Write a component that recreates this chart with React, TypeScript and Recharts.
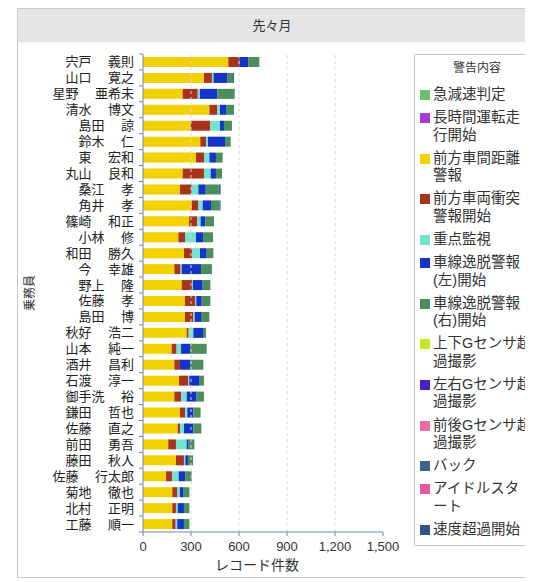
import { BarChart, Bar, XAxis, YAxis, ReferenceLine } from 'recharts';

// 乗務員
const drivers = [
  '宍戸　 義則', '山口　 寛之', '星野　 亜希未', '清水　 博文', '島田　 諒',
  '鈴木　 仁', '東　 宏和', '丸山　 良和', '桑江　 孝', '角井　 孝',
  '篠崎　 和正', '小林　 修', '和田　 勝久', '今　 幸雄', '野上　 隆',
  '佐藤　 孝', '島田　 博', '秋好　 浩二', '山本　 純一', '酒井　 昌利',
  '石渡　 淳一', '御手洗　 裕', '鎌田　 哲也', '佐藤　 直之', '前田　 勇吾',
  '藤田　 秋人', '佐藤　 行太郎', '菊地　 徹也', '北村　 正明', '工藤　 順一',
];

// 警告内容ごとの件数 (driver order)
const kyugensoku: number[] = [];
const chojikan: number[] = [];
const kankyori = [533, 381, 248, 415, 298, 358, 331, 248, 231, 304, 288, 221, 256, 196, 242, 262, 262, 273, 179, 196, 225, 196, 231, 217, 158, 206, 144, 183, 183, 183];
const shototsu = [69, 50, 94, 50, 123, 36, 52, 133, 73, 42, 50, 44, 50, 39, 64, 63, 53, 12, 31, 35, 58, 42, 32, 14, 48, 50, 37, 32, 23, 21];
const juten = [0, 10, 14, 16, 60, 12, 32, 42, 42, 27, 22, 66, 50, 7, 6, 8, 8, 30, 28, 0, 6, 35, 14, 25, 67, 9, 42, 16, 11, 10];
const shasenLeft = [56, 88, 109, 42, 25, 107, 41, 33, 46, 52, 30, 44, 42, 121, 61, 34, 44, 60, 56, 63, 61, 62, 38, 59, 12, 16, 42, 23, 39, 42];
const shasenRight = [69, 28, 108, 46, 50, 35, 42, 38, 81, 52, 54, 63, 42, 68, 48, 54, 48, 19, 104, 83, 31, 46, 45, 50, 36, 32, 39, 36, 34, 34];
const jogeG: number[] = [];
const sayuG: number[] = [];
const zengoG: number[] = [];
const back = [0, 12, 0, 0, 0, 0, 0, 0, 12, 8, 0, 0, 0, 0, 0, 0, 0, 0, 0, 0, 0, 0, 0, 0, 0, 0, 0, 0, 0, 0];
const idle: number[] = [];
const sokudo: number[] = [];

const xTicks = [0, 300, 600, 900, 1200, 1500];
const gridLines = [300, 600, 900, 1200];

const series = [
  { key: 'kyugensoku', name: '急減速判定', lines: ['急減速判定'], color: '#6cc26c', values: kyugensoku },
  { key: 'chojikan', name: '長時間運転走行開始', lines: ['長時間運転走', '行開始'], color: '#a23fd6', values: chojikan },
  { key: 'kankyori', name: '前方車間距離警報', lines: ['前方車間距離', '警報'], color: '#f2d100', values: kankyori },
  { key: 'shototsu', name: '前方車両衝突警報開始', lines: ['前方車両衝突', '警報開始'], color: '#a8341e', values: shototsu },
  { key: 'juten', name: '重点監視', lines: ['重点監視'], color: '#72e3cf', values: juten },
  { key: 'shasenLeft', name: '車線逸脱警報(左)開始', lines: ['車線逸脱警報', '(左)開始'], color: '#1433c9', values: shasenLeft },
  { key: 'shasenRight', name: '車線逸脱警報(右)開始', lines: ['車線逸脱警報', '(右)開始'], color: '#4b8d5b', values: shasenRight },
  { key: 'jogeG', name: '上下Gセンサ超過撮影', lines: ['上下Gセンサ超', '過撮影'], color: '#c2e62a', values: jogeG },
  { key: 'sayuG', name: '左右Gセンサ超過撮影', lines: ['左右Gセンサ超', '過撮影'], color: '#4a1fc4', values: sayuG },
  { key: 'zengoG', name: '前後Gセンサ超過撮影', lines: ['前後Gセンサ超', '過撮影'], color: '#f06aa4', values: zengoG },
  { key: 'back', name: 'バック', lines: ['バック'], color: '#3c6288', values: back },
  { key: 'idle', name: 'アイドルスタート', lines: ['アイドルスタ', 'ート'], color: '#e85a9e', values: idle },
  { key: 'sokudo', name: '速度超過開始', lines: ['速度超過開始'], color: '#2e5585', values: sokudo },
];

const rows = drivers.map((name, i) => {
  const row: Record<string, string | number> = { name };
  series.forEach((s) => {
    row[s.key] = s.values[i] ?? 0;
  });
  return row;
});

const FONT = '"Liberation Sans", "Noto Sans CJK JP", sans-serif';
const AXIS = '#6d87b7';
const PLOT_H = 478;

function DriverTick(props: any) {
  const { x, y, payload, index } = props;
  const band = PLOT_H / drivers.length;
  const ax = x + 9;
  return (
    <g>
      <line x1={ax - 4} x2={ax} y1={y - band / 2} y2={y - band / 2} stroke={AXIS} />
      {index === drivers.length - 1 && (
        <line x1={ax - 4} x2={ax} y1={y + band / 2} y2={y + band / 2} stroke={AXIS} />
      )}
      <text x={x} y={y} dy={4.5} textAnchor="end" fontSize={13} fill="#222" fontFamily={FONT}>
        {payload.value}
      </text>
    </g>
  );
}

export default function App() {
  return (
    <div style={{ position: 'relative', width: 525, height: 574, overflow: 'hidden', fontFamily: FONT }}>
      <div
        style={{
          position: 'absolute',
          left: 9,
          top: 0,
          width: 600,
          height: 568,
          border: '1px solid #c9c9c9',
          background: '#fff',
        }}
      >
        <div style={{ height: 33, background: '#e5e5e5' }} />
      </div>
      <div
        style={{
          position: 'absolute',
          left: 10,
          top: 1,
          width: 508,
          lineHeight: '33px',
          textAlign: 'center',
          fontSize: 13,
          color: '#333',
        }}
      >
        先々月
      </div>

      <div style={{ position: 'absolute', left: 0, top: 0 }}>
        <BarChart
          width={400}
          height={570}
          data={rows}
          layout="vertical"
          barSize={10}
          margin={{ top: 46, right: 25, left: 0, bottom: 0 }}
        >
          {gridLines.map((v) => (
            <ReferenceLine key={v} x={v} stroke="#d6d6d6" strokeDasharray="3 3" />
          ))}
          <XAxis
            type="number"
            domain={[0, 1500]}
            ticks={xTicks}
            height={46}
            tickSize={4}
            tickMargin={6}
            stroke={AXIS}
            tick={{ fontSize: 13, fill: '#333', fontFamily: FONT }}
            tickFormatter={(v: number) => v.toLocaleString('en-US')}
            label={{ value: 'レコード件数', position: 'insideBottom', offset: 8, dx: -6, fontSize: 14, fill: '#333' }}
          />
          <YAxis
            type="category"
            dataKey="name"
            width={135}
            stroke={AXIS}
            tickLine={false}
            tickMargin={3}
            interval={0}
            tick={<DriverTick />}
            label={{
              value: '乗務員',
              angle: -90,
              position: 'insideLeft',
              offset: 22,
              fontSize: 12,
              fill: '#333',
              style: { textAnchor: 'middle' },
            }}
          />
          {series.map((s) => (
            <Bar key={s.key} dataKey={s.key} name={s.name} stackId="a" fill={s.color} isAnimationActive={false} />
          ))}
        </BarChart>
      </div>

      <div
        style={{
          position: 'absolute',
          left: 406,
          top: 46,
          width: 140,
          height: 492,
          border: '1px solid #c9c9c9',
          background: '#fff',
          boxSizing: 'border-box',
          color: '#333',
        }}
      >
        <div style={{ width: 124, textAlign: 'center', fontSize: 12, lineHeight: '16px', marginTop: 5 }}>警告内容</div>
        <div style={{ marginTop: 10, paddingLeft: 5 }}>
          {series.map((s) => (
            <div key={s.key} style={{ display: 'flex', marginBottom: 5.8 }}>
              <div style={{ width: 10, height: 10, background: s.color, marginTop: 4, marginRight: 3, flex: 'none' }} />
              <div style={{ fontSize: 14.5, lineHeight: '17.4px', whiteSpace: 'nowrap' }}>
                {s.lines.map((l, i) => (
                  <div key={i}>{l}</div>
                ))}
              </div>
            </div>
          ))}
        </div>
      </div>
    </div>
  );
}
